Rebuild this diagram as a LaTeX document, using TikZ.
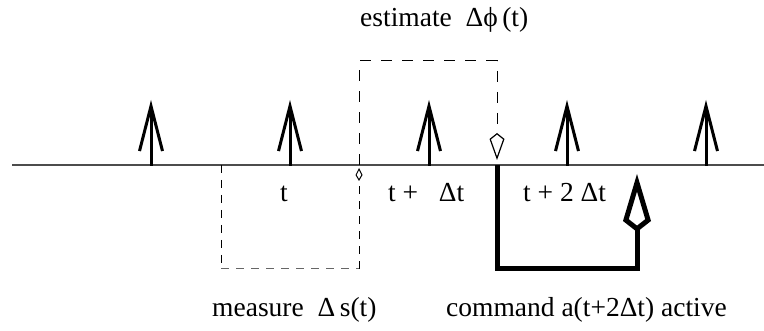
\documentclass[tikz,border=0pt]{standalone}
\usepackage{fontspec}
\setmainfont{Liberation Serif}
\usetikzlibrary{arrows.meta}
\begin{document}
\begin{tikzpicture}[x=1pt,y=-1pt,
  axis/.style={line width=1.2pt,draw=black!70},
  pulse/.style={line width=3pt,-{Straight Barb[length=45pt,width=23pt,line width=3pt]}},
  thindash/.style={line width=1pt,dash pattern=on 8pt off 7pt},
  topdash/.style={line width=1pt,dash pattern=on 11pt off 10pt},
  smallkite/.style={-{Kite[open,length=13pt,width=7pt,inset=6pt,line width=1pt]}},
  midkite/.style={-{Kite[open,length=27pt,width=15pt,inset=6pt,line width=1.2pt]}},
  bigkite/.style={-{Kite[open,length=58pt,width=28pt,inset=11pt,line width=5pt]}},
  thickpath/.style={line width=5pt,miter limit=10},
  lbl/.style={inner sep=0pt,anchor=base west,font=\fontsize{27.5}{30}\selectfont}]
\useasboundingbox (0,0) rectangle (764,331);
% axis
\coordinate (axL) at (12,165);
\coordinate (axR) at (764,165);
\draw[axis] (axL) -- (axR);
% pulses
\foreach \i/\x in {1/151,2/290,3/429,4/567,5/706}{
  \coordinate (p\i) at (\x,166);
  \coordinate (q\i) at (\x,100);
  \draw[pulse] (p\i) -- (q\i);
}
% measure path
\coordinate (m0) at (221,165);
\coordinate (m1) at (221,269);
\coordinate (m2) at (359,269);
\coordinate (m3) at (359,168);
\draw[thindash] (m0) -- (m1);
\draw[thindash,draw=black!60] (m1) -- (m2);
\draw[thindash,smallkite] (m2) -- (m3);
% estimate path
\coordinate (e0) at (359,165);
\coordinate (e1) at (359,61);
\coordinate (e2) at (497,61);
\coordinate (e3) at (497,160);
\draw[topdash,midkite] (e0) -- (e1) -- (e2) -- (e3);
% command path
\coordinate (c0) at (497,165);
\coordinate (c1) at (497,269);
\coordinate (c2) at (637,269);
\coordinate (c3) at (637,174);
\draw[thickpath,bigkite] (c0) -- (c1) -- (c2) -- (c3);
% labels
\node[lbl] (est) at (360,27) {estimate\ \ Δϕ\,(t)};
\node[lbl] (lt) at (280,202) {t};
\node[lbl] (lt1) at (388,202) {t +\ \ \ Δt};
\node[lbl] (lt2) at (523,202) {t + 2 Δt};
\node[lbl] (meas) at (212,317) {measure\ \ Δ\,s(t)};
\node[lbl] (cmd) at (446,317) {command a(t+2Δt) active};
\end{tikzpicture}
\end{document}
